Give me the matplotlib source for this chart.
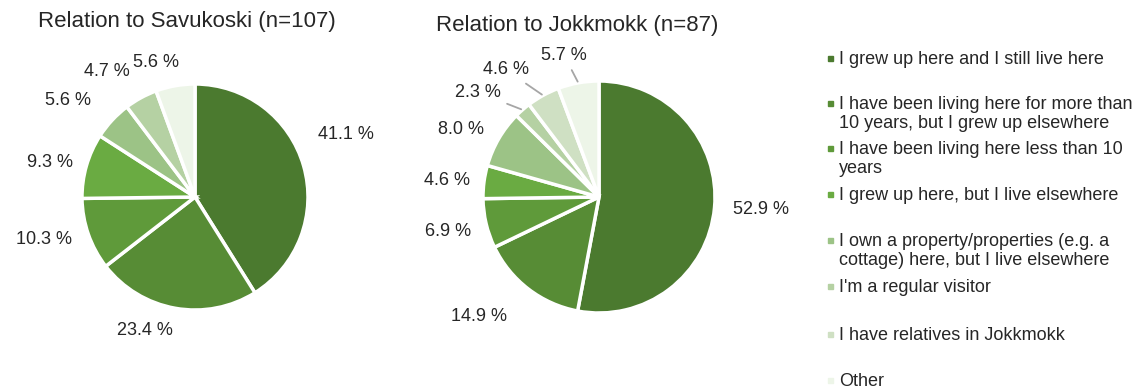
import numpy as np
import matplotlib
matplotlib.use("Agg")
import matplotlib.pyplot as plt
from matplotlib.patches import Rectangle

plt.rcParams['font.family'] = ['Liberation Sans', 'DejaVu Sans']

# Datos
categories = [
    "I grew up here and I still live here",
    "I have been living here for more than\n10 years, but I grew up elsewhere",
    "I have been living here less than 10\nyears",
    "I grew up here, but I live elsewhere",
    "I own a property/properties (e.g. a\ncottage) here, but I live elsewhere",
    "I'm a regular visitor",
    "I have relatives in Jokkmokk",
    "Other",
]
savukoski = [41.1, 23.4, 10.3, 9.3, 5.6, 4.7, 0.0, 5.6]
jokkmokk = [52.9, 14.9, 6.9, 4.6, 8.0, 2.3, 4.6, 5.7]
titles = ["Relation to Savukoski (n=107)", "Relation to Jokkmokk (n=87)"]

colors = ["#4b7a2f", "#578c35", "#5f9a3a", "#6aab42",
          "#9cc386", "#b5d1a3", "#cfe0c3", "#edf5e8"]

W, H = 1143, 390
fig = plt.figure(figsize=(W / 100, H / 100), dpi=100)


def draw_pie(cx, cy, r, values, title, tx, ty, dist, nudge, leaders):
    L = 1.6
    side = 2 * L * r
    ax = fig.add_axes([(cx - side / 2) / W, (H - cy - side / 2) / H, side / W, side / H])
    vals = [v for v in values if v > 0]
    cols = [c for v, c in zip(values, colors) if v > 0]
    wedges, _ = ax.pie(vals, colors=cols, startangle=90, counterclock=False,
                       wedgeprops=dict(edgecolor="white", linewidth=2.5))
    ax.set_xlim(-L, L)
    ax.set_ylim(-L, L)
    ax.set_aspect("equal")
    ax.axis("off")
    total = sum(vals)
    cum = 0
    for i, v in enumerate(vals):
        mid = 90 - 360 * (cum + v / 2) / total
        cum += v
        a = np.deg2rad(mid + nudge[i])
        d = dist[i]
        x, y = d * np.cos(a), d * np.sin(a)
        ha = "left" if x > 0.5 else ("right" if x < -0.5 else "center")
        if leaders[i]:
            m = np.deg2rad(mid)
            ax.annotate(f"{v:.1f} %", xy=(1.0 * np.cos(m), 1.0 * np.sin(m)),
                        xytext=(x, y), ha=ha, va="center", fontsize=13, color="#262626",
                        arrowprops=dict(arrowstyle="-", color="#a6a6a6", lw=1.3,
                                        shrinkA=3, shrinkB=1))
        else:
            ax.text(x, y, f"{v:.1f} %", ha=ha, va="center", fontsize=13, color="#262626")
    fig.text(tx / W, 1 - ty / H, title, ha="center", va="center", fontsize=16, color="#262626")


draw_pie(195, 197, 113, savukoski, titles[0], 187, 22,
         [1.22, 1.26, 1.15, 1.12, 1.25, 1.25, 1.24],
         [10.8, -10.5, 0, 0, 0, -1.3, 6],
         [False] * 7)
draw_pie(599, 197, 116, jokkmokk, titles[1], 577, 25,
         [1.16, 1.3, 1.14, 1.12, 1.15, 1.24, 1.25, 1.26],
         [0, 0, 2, 0, 0, 2, 0, 3.6],
         [False, False, False, False, False, True, True, True])

# Leyenda
leg_y = [58, 103, 148, 194, 240, 286, 334, 380]
for lab, col, y in zip(categories, colors, leg_y):
    fig.patches.append(Rectangle((828 / W, 1 - (y + 3) / H), 5 / W, 5 / H,
                                 transform=fig.transFigure, color=col))
    fig.text(839 / W, 1 - (y - 7) / H, lab, ha="left", va="top", fontsize=13,
             color="#262626", linespacing=1.15)

plt.savefig("out.png", dpi=100)
